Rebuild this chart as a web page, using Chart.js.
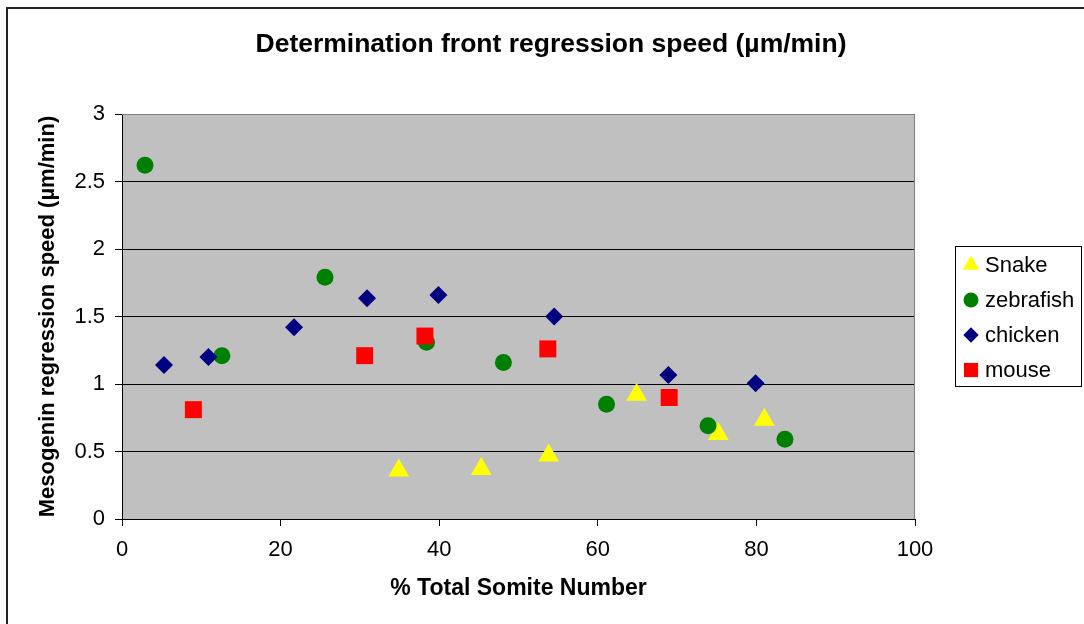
<!DOCTYPE html>
<html lang="en">
    <head>
        <meta charset="UTF-8" />
        <title>Determination front regression speed</title>
        <script src="https://cdn.jsdelivr.net/npm/chart.js"></script>
        <style>
            body {
                margin: 0;
                background: white;
            }
        </style>
    </head>
    <body>
        <canvas id="myChart" width="1084" height="624"></canvas>

        <script>
            const seriesNames = ['Snake', 'zebrafish', 'chicken', 'mouse']

            const snakeX = [34.9, 45.3, 53.8, 64.9, 75.2, 81.0]
            const snakeY = [0.36, 0.37, 0.47, 0.92, 0.63, 0.735]

            const zebrafishX = [2.9, 12.6, 25.6, 38.4, 48.1, 61.1, 73.9, 83.6]
            const zebrafishY = [2.62, 1.21, 1.79, 1.31, 1.16, 0.85, 0.69, 0.59]

            const chickenX = [5.3, 10.9, 21.7, 30.9, 39.9, 54.5, 68.9, 79.9]
            const chickenY = [1.14, 1.2, 1.42, 1.635, 1.66, 1.5, 1.067, 1.005]

            const mouseX = [9.0, 30.6, 38.2, 53.7, 69.0]
            const mouseY = [0.81, 1.21, 1.355, 1.26, 0.9]

            const xTicks = [0, 20, 40, 60, 80, 100]
            const yTicks = [0, 0.5, 1, 1.5, 2, 2.5, 3]

            const font = '"Liberation Sans", Arial, sans-serif'

            const pairs = (xs, ys) => xs.map((x, i) => ({ x: x, y: ys[i] }))

            const styles = [
                { color: '#FFFF00', pointStyle: 'triangle', radius: 12, legendRadius: 9.5 },
                { color: '#008000', pointStyle: 'circle', radius: 8.5, legendRadius: 7.5 },
                { color: '#000080', pointStyle: 'rectRot', radius: 9, legendRadius: 7.7 },
                { color: '#FF0000', pointStyle: 'rect', radius: 12, legendRadius: 10 },
            ]

            const values = [
                pairs(snakeX, snakeY),
                pairs(zebrafishX, zebrafishY),
                pairs(chickenX, chickenY),
                pairs(mouseX, mouseY),
            ]

            const data = {
                datasets: seriesNames.map((name, i) => ({
                    label: name,
                    data: values[i],
                    pointStyle: styles[i].pointStyle,
                    pointRadius: styles[i].radius,
                    pointHoverRadius: styles[i].radius,
                    backgroundColor: styles[i].color,
                    borderColor: styles[i].color,
                    borderWidth: 0,
                    order: seriesNames.length - i,
                })),
            }

            // grey plot area, its border and the outer frame
            const plotArea = {
                id: 'plotArea',
                beforeDraw(chart) {
                    const { ctx, chartArea: a } = chart
                    ctx.save()
                    ctx.fillStyle = '#C0C0C0'
                    ctx.fillRect(a.left, a.top, a.right - a.left, a.bottom - a.top)
                    ctx.restore()
                },
                beforeDatasetsDraw(chart) {
                    const { ctx, chartArea: a } = chart
                    ctx.save()
                    ctx.strokeStyle = '#808080'
                    ctx.lineWidth = 1
                    ctx.beginPath()
                    ctx.moveTo(a.left, Math.round(a.top) + 0.5)
                    ctx.lineTo(Math.round(a.right) - 0.5, Math.round(a.top) + 0.5)
                    ctx.lineTo(Math.round(a.right) - 0.5, a.bottom)
                    ctx.stroke()
                    ctx.restore()
                },
                afterDraw(chart) {
                    const { ctx } = chart
                    ctx.save()
                    ctx.strokeStyle = '#222'
                    ctx.lineWidth = 2
                    ctx.strokeRect(7, 8, 1200, 800)
                    ctx.restore()
                },
            }

            // boxed legend to the right of the plot
            const boxLegend = {
                id: 'boxLegend',
                afterDraw(chart) {
                    const { ctx } = chart
                    const left = 955.5
                    const top = 246.5
                    ctx.save()
                    ctx.fillStyle = 'white'
                    ctx.fillRect(left, top, 126, 140)
                    ctx.strokeStyle = '#000'
                    ctx.lineWidth = 1
                    ctx.strokeRect(left, top, 126, 140)
                    ctx.font = '22px ' + font
                    ctx.textBaseline = 'middle'
                    ctx.textAlign = 'left'
                    chart.data.datasets.forEach((ds, i) => {
                        const y = 265 + i * 35
                        ctx.fillStyle = ds.backgroundColor
                        Chart.helpers.drawPoint(ctx, {
                            pointStyle: ds.pointStyle,
                            radius: styles[i].legendRadius,
                            borderWidth: 0,
                        }, 971, y)
                        ctx.fillStyle = '#000'
                        ctx.fillText(ds.label, 985, y + 1)
                    })
                    ctx.restore()
                },
            }

            const config = {
                type: 'scatter',
                data: data,
                options: {
                    responsive: false,
                    animation: false,
                    events: [],
                    layout: {
                        padding: { left: 18, right: 0, top: 0, bottom: 0 },
                    },
                    scales: {
                        x: {
                            type: 'linear',
                            min: 0,
                            max: 100,
                            afterBuildTicks: (scale) => {
                                scale.ticks = xTicks.map((v) => ({ value: v }))
                            },
                            afterFit: (scale) => {
                                scale.height = 105
                            },
                            ticks: {
                                color: '#000',
                                padding: 11,
                                font: { family: font, size: 22 },
                            },
                            grid: {
                                drawOnChartArea: false,
                                drawTicks: true,
                                tickLength: 7,
                                tickColor: '#000',
                            },
                            border: { display: true, color: '#000', width: 1 },
                            title: {
                                display: true,
                                text: '% Total Somite Number',
                                color: '#000',
                                font: { family: font, size: 23, weight: 'bold' },
                                padding: { top: 0, bottom: 22 },
                            },
                        },
                        y: {
                            type: 'linear',
                            min: 0,
                            max: 3,
                            afterBuildTicks: (scale) => {
                                scale.ticks = yTicks.map((v) => ({ value: v }))
                            },
                            afterFit: (scale) => {
                                scale.width = 104
                            },
                            ticks: {
                                color: '#000',
                                padding: 10,
                                font: { family: font, size: 22 },
                                callback: (v) => String(v),
                            },
                            grid: {
                                color: (ctx) => (ctx.tick && ctx.tick.value === 3 ? '#808080' : '#000'),
                                lineWidth: 1,
                                drawTicks: true,
                                tickLength: 7,
                                tickColor: '#000',
                            },
                            border: { display: true, color: '#000', width: 1 },
                            title: {
                                display: true,
                                text: 'Mesogenin regression speed (µm/min)',
                                color: '#000',
                                font: { family: font, size: 22, weight: 'bold' },
                                padding: { top: 17, bottom: 0 },
                            },
                        },
                        // empty space on the right that holds the legend
                        legendSpace: {
                            type: 'linear',
                            position: 'right',
                            afterFit: (scale) => {
                                scale.width = 169
                            },
                            ticks: { display: false },
                            grid: { display: false },
                            border: { display: false },
                        },
                    },
                    plugins: {
                        legend: { display: false },
                        tooltip: { enabled: false },
                        title: {
                            display: true,
                            text: 'Determination front regression speed (µm/min)',
                            color: '#000',
                            font: { family: font, size: 26.5, weight: 'bold' },
                            padding: { top: 29, bottom: 53.2 },
                        },
                    },
                },
                plugins: [plotArea, boxLegend],
            }

            const myChart = new Chart(document.getElementById('myChart'), config)
        </script>
    </body>
</html>
